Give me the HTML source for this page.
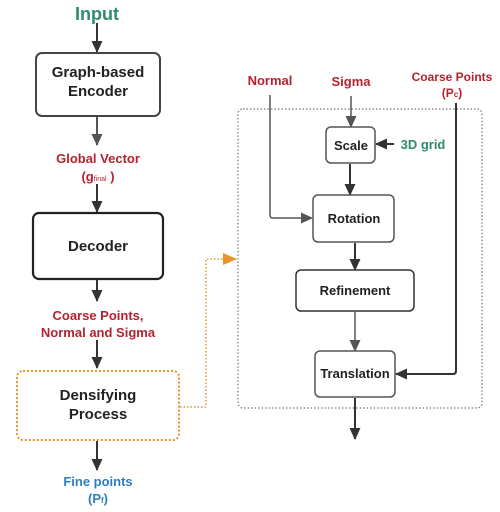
<!DOCTYPE html>
<html><head><meta charset="utf-8"><style>
html,body{margin:0;padding:0;background:#fff;}
svg{display:block;font-family:"Liberation Sans",sans-serif;font-weight:bold;}
</style></head><body>
<svg width="500" height="512" viewBox="0 0 500 512" xmlns="http://www.w3.org/2000/svg">
<defs>
<marker id="a" markerWidth="12" markerHeight="12" refX="11" refY="6" orient="auto" markerUnits="userSpaceOnUse"><path d="M0,0.5 L12,6 L0,11.5 z" fill="#333"/></marker>
<marker id="g" markerWidth="12" markerHeight="12" refX="11" refY="6" orient="auto" markerUnits="userSpaceOnUse"><path d="M0,0.5 L12,6 L0,11.5 z" fill="#555"/></marker>
<marker id="o" markerWidth="14" markerHeight="14" refX="13" refY="7" orient="auto" markerUnits="userSpaceOnUse"><path d="M0,1 L14,7 L0,13 z" fill="#e8952e"/></marker>
</defs>
<g text-anchor="middle">
<text x="97" y="20" font-size="18" fill="#2e8b6e">Input</text>
<line x1="97" y1="23" x2="97" y2="52" stroke="#333" stroke-width="2" marker-end="url(#a)"/>
<rect x="36" y="53" width="124" height="63" rx="6" fill="#fff" stroke="#444" stroke-width="2"/>
<text x="98" y="77" font-size="15" fill="#222">Graph-based</text>
<text x="98" y="96" font-size="15" fill="#222">Encoder</text>
<line x1="97" y1="117" x2="97" y2="145" stroke="#555" stroke-width="2" marker-end="url(#g)"/>
<text x="98" y="163" font-size="13" fill="#b5222f">Global Vector</text>
<text x="98" y="181" font-size="13" fill="#b5222f">(g<tspan font-size="7" font-weight="normal">final</tspan> )</text>
<line x1="97" y1="184" x2="97" y2="212" stroke="#333" stroke-width="2" marker-end="url(#a)"/>
<rect x="33" y="213" width="130" height="66" rx="6" fill="#fff" stroke="#222" stroke-width="2.2"/>
<text x="98" y="251" font-size="15" fill="#222">Decoder</text>
<line x1="97" y1="280" x2="97" y2="301" stroke="#333" stroke-width="2" marker-end="url(#a)"/>
<text x="98" y="320" font-size="13" fill="#b5222f">Coarse Points,</text>
<text x="98" y="337" font-size="13" fill="#b5222f">Normal and Sigma</text>
<line x1="97" y1="340" x2="97" y2="368" stroke="#333" stroke-width="2" marker-end="url(#a)"/>
<rect x="17" y="371" width="162" height="69" rx="6" fill="none" stroke="#e8952e" stroke-width="2" stroke-dasharray="2,2"/>
<text x="98" y="400" font-size="15" fill="#222">Densifying</text>
<text x="98" y="419" font-size="15" fill="#222">Process</text>
<line x1="97" y1="441" x2="97" y2="470" stroke="#333" stroke-width="2" marker-end="url(#a)"/>
<text x="98" y="486" font-size="13" fill="#2e7fc1">Fine points</text>
<text x="98" y="503" font-size="13" fill="#2e7fc1">(P<tspan font-size="8">f</tspan>)</text>
<path d="M180,407 H206 V259 H236" fill="none" stroke="#e8952e" stroke-width="1.5" stroke-dasharray="1.5,2" marker-end="url(#o)"/>
<rect x="238" y="109" width="244" height="299" rx="5" fill="none" stroke="#777" stroke-width="1.2" stroke-dasharray="1.5,2"/>
<text x="270" y="85" font-size="13" fill="#b5222f">Normal</text>
<text x="351" y="86" font-size="13" fill="#b5222f">Sigma</text>
<text x="452" y="81" font-size="12" fill="#b5222f">Coarse Points</text>
<text x="452" y="97" font-size="12" fill="#b5222f">(P<tspan font-size="8">c</tspan>)</text>
<path d="M270,95 V215 Q270,218 273,218 H312" fill="none" stroke="#555" stroke-width="1.5" marker-end="url(#g)"/>
<line x1="351" y1="96" x2="351" y2="127" stroke="#555" stroke-width="1.5" marker-end="url(#g)"/>
<rect x="326" y="127" width="49" height="36" rx="5" fill="#fff" stroke="#555" stroke-width="1.5"/>
<text x="351" y="150" font-size="13" fill="#222">Scale</text>
<text x="423" y="149" font-size="13" fill="#2e8b6e">3D grid</text>
<line x1="394" y1="144" x2="376" y2="144" stroke="#333" stroke-width="2" marker-end="url(#a)"/>
<line x1="350" y1="164" x2="350" y2="195" stroke="#333" stroke-width="2" marker-end="url(#a)"/>
<rect x="313" y="195" width="81" height="47" rx="5" fill="#fff" stroke="#555" stroke-width="1.5"/>
<text x="354" y="223" font-size="13" fill="#222">Rotation</text>
<line x1="355" y1="243" x2="355" y2="270" stroke="#333" stroke-width="2" marker-end="url(#a)"/>
<rect x="296" y="270" width="118" height="41" rx="5" fill="#fff" stroke="#333" stroke-width="1.5"/>
<text x="355" y="295" font-size="13" fill="#222">Refinement</text>
<line x1="355" y1="312" x2="355" y2="351" stroke="#555" stroke-width="1.5" marker-end="url(#g)"/>
<rect x="315" y="351" width="80" height="46" rx="5" fill="#fff" stroke="#555" stroke-width="1.5"/>
<text x="355" y="378" font-size="13" fill="#222">Translation</text>
<path d="M456,103 V371 Q456,374 453,374 H396" fill="none" stroke="#333" stroke-width="2" marker-end="url(#a)"/>
<line x1="355" y1="398" x2="355" y2="439" stroke="#333" stroke-width="2" marker-end="url(#a)"/>
</g>
</svg>
</body></html>
